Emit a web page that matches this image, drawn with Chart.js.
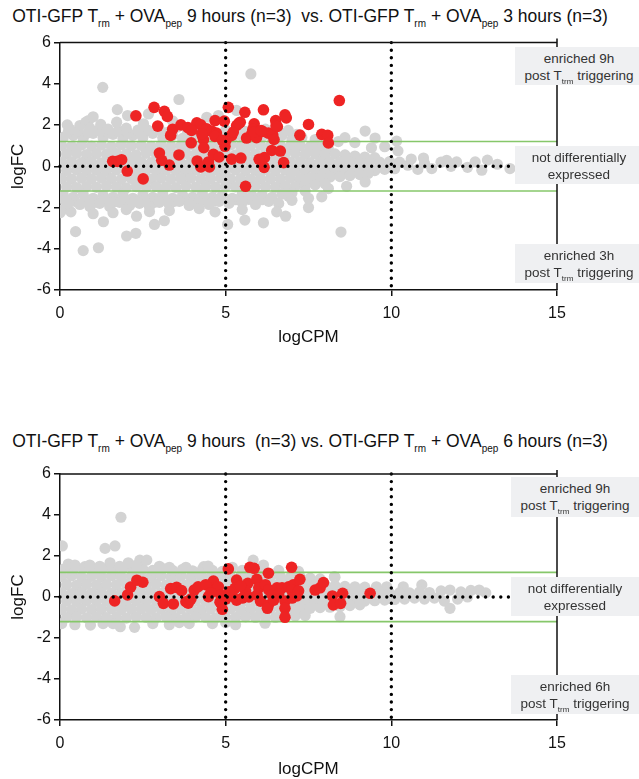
<!DOCTYPE html>
<html>
<head>
<meta charset="utf-8">
<script src="https://cdn.jsdelivr.net/npm/chart.js@4"></script>
<style>
  html, body { margin: 0; padding: 0; background: #fff; }
  body { width: 639px; height: 779px; position: relative; overflow: hidden;
         font-family: "Liberation Sans", Arial, sans-serif; color: #111; }
  .title { position: absolute; left: 0; width: 620px; text-align: center;
           font-size: 17.5px; line-height: 22px; white-space: nowrap; }
  .sub { font-size: 10px; position: relative; top: 5px; }
  .note { position: absolute; width: 128px; background: #eff0f2; text-align: center;
          font-size: 13.5px; line-height: 17px; color: #333; padding-top: 3px; box-sizing: border-box; }
  .note .sub { font-size: 8px; top: 4px; }
  .plot { position: absolute; left: 0; width: 639px; height: 330px; }
</style>
</head>
<body>
<div class="title" style="top:5px">OTI-GFP T<span class="sub">rm</span> + OVA<span class="sub">pep</span> 9 hours (n=3)&nbsp; vs. OTI-GFP T<span class="sub">rm</span> + OVA<span class="sub">pep</span> 3 hours (n=3)</div>
<div class="plot" style="top:30px"><canvas id="plot1"></canvas></div>
<div class="note" style="left:515px;top:47px;height:38px">enriched 9h<br>post T<span class="sub">trm</span> triggering</div>
<div class="note" style="left:515px;top:146px;height:38px">not differentially<br>expressed</div>
<div class="note" style="left:515px;top:244px;height:39px">enriched 3h<br>post T<span class="sub">trm</span> triggering</div>

<div class="title" style="top:430px">OTI-GFP T<span class="sub">rm</span> + OVA<span class="sub">pep</span> 9 hours&nbsp; (n=3) vs. OTI-GFP T<span class="sub">rm</span> + OVA<span class="sub">pep</span> 6 hours (n=3)</div>
<div class="plot" style="top:450px"><canvas id="plot2"></canvas></div>
<div class="note" style="left:511px;top:477px;height:40px">enriched 9h<br>post T<span class="sub">trm</span> triggering</div>
<div class="note" style="left:511px;top:577px;height:39px">not differentially<br>expressed</div>
<div class="note" style="left:511px;top:675px;height:39px">enriched 6h<br>post T<span class="sub">trm</span> triggering</div>

<script>
// axis ticks
const xTicks = [0, 5, 10, 15];
const yTicks = [-6, -4, -2, 0, 2, 4, 6];
// reference lines
const cpmCuts = [5, 10];
const fcCuts = [1.2, -1.2];
const zeroLineEnd = 13.7;

// 9h vs 3h: bulk of genes (logCPM, logFC)
const gray1Band = [
  [0.05,1.0],[0.35,0.97],[0.65,1.03],[0.95,0.98],[1.25,1.02],[1.55,0.96],[1.85,1.04],[2.15,0.99],[2.45,1.01],[2.75,0.97],[3.05,1.03],[3.35,0.98],[3.65,1.0],[3.95,1.04],[4.25,0.96],[4.55,1.02],[4.85,0.99],[5.15,1.03],[5.45,0.97],[5.75,1.0],[6.05,1.02],[6.35,0.98],[6.65,1.01],[6.95,0.97],[7.25,1.0],[7.55,0.95],[7.85,0.9],[8.1,0.85],
  [0.2,0.6],[0.5,0.63],[0.8,0.57],[1.1,0.61],[1.4,0.58],[1.7,0.62],[2.0,0.6],[2.3,0.56],[2.6,0.63],[2.9,0.59],[3.2,0.61],[3.5,0.57],[3.8,0.62],[4.1,0.6],[4.4,0.58],[4.7,0.63],[5.0,0.6],[5.3,0.56],[5.6,0.62],[5.9,0.59],[6.2,0.61],[6.5,0.57],[6.8,0.6],[7.1,0.63],[7.4,0.58],[7.7,0.61],[8.0,0.57],[8.3,0.6],[8.6,0.55],[8.9,0.5],[9.2,0.45],[9.5,0.42],
  [0.05,0.2],[0.35,0.22],[0.65,0.18],[0.95,0.21],[1.25,0.17],[1.55,0.2],[1.85,0.23],[2.15,0.19],[2.45,0.21],[2.75,0.18],[3.05,0.2],[3.35,0.22],[3.65,0.17],[3.95,0.2],[4.25,0.23],[4.55,0.19],[4.85,0.21],[5.15,0.18],[5.45,0.2],[5.75,0.22],[6.05,0.18],[6.35,0.21],[6.65,0.19],[6.95,0.2],[7.25,0.22],[7.55,0.18],[7.85,0.21],[8.15,0.19],[8.45,0.2],[8.75,0.22],[9.05,0.18],[9.35,0.21],[9.65,0.2],[9.95,0.23],[10.25,0.2],
  [0.2,-0.2],[0.5,-0.17],[0.8,-0.22],[1.1,-0.19],[1.4,-0.21],[1.7,-0.18],[2.0,-0.2],[2.3,-0.23],[2.6,-0.18],[2.9,-0.21],[3.2,-0.19],[3.5,-0.2],[3.8,-0.22],[4.1,-0.18],[4.4,-0.21],[4.7,-0.19],[5.0,-0.2],[5.3,-0.17],[5.6,-0.22],[5.9,-0.2],[6.2,-0.18],[6.5,-0.21],[6.8,-0.19],[7.1,-0.2],[7.4,-0.22],[7.7,-0.18],[8.0,-0.2],[8.3,-0.21],[8.6,-0.19],[8.9,-0.2],[9.2,-0.18],[9.5,-0.21],[9.8,-0.15],[10.1,-0.12],
  [0.05,-0.6],[0.35,-0.62],[0.65,-0.58],[0.95,-0.61],[1.25,-0.57],[1.55,-0.6],[1.85,-0.63],[2.15,-0.59],[2.45,-0.6],[2.75,-0.62],[3.05,-0.58],[3.35,-0.61],[3.65,-0.6],[3.95,-0.57],[4.25,-0.62],[4.55,-0.6],[4.85,-0.58],[5.15,-0.61],[5.45,-0.6],[5.75,-0.63],[6.05,-0.59],[6.35,-0.6],[6.65,-0.62],[6.95,-0.58],[7.25,-0.6],[7.55,-0.57],[7.85,-0.55],[8.15,-0.52],[8.45,-0.5],[8.75,-0.45],[9.05,-0.4],[9.3,-0.35],
  [0.2,-1.0],[0.5,-1.03],[0.8,-0.98],[1.1,-1.02],[1.4,-0.97],[1.7,-1.01],[2.0,-1.04],[2.3,-0.99],[2.6,-1.02],[2.9,-0.98],[3.2,-1.0],[3.5,-1.03],[3.8,-0.97],[4.1,-1.01],[4.4,-0.99],[4.7,-1.02],[5.0,-0.98],[5.3,-1.0],[5.6,-1.03],[5.9,-0.97],[6.2,-1.0],[6.5,-1.02],[6.8,-0.96],[7.1,-0.98],[7.4,-0.93],[7.7,-0.9],[8.0,-0.85],
  [10.5,0.05],[10.6,0.35],[10.8,-0.15],[10.97,0.4],[11.0,0.15],[11.22,-0.11],[11.5,0.2],[11.67,0.29],[11.8,0.0],[11.97,0.21],[12.3,-0.05],[12.53,0.21],[12.73,-0.19],[12.9,0.3],[13.2,0.1],[13.58,-0.11]
];
const gray1Edge = [
  [0.1,1.4],[0.4,1.5],[0.7,1.35],[1.0,1.6],[1.3,1.4],[1.6,1.55],[1.9,1.35],[2.2,1.5],[2.5,1.4],[2.8,1.6],[3.1,1.4],[3.4,1.5],[3.7,1.35],[4.0,1.45],[4.3,1.6],[4.6,1.4],[4.9,1.5],[5.2,1.35],[5.5,1.45],[5.8,1.3],[6.1,1.45],[6.4,1.35],[6.7,1.5],[7.0,1.3],[7.3,1.4],[7.7,1.3],[8.0,1.25],[8.4,1.2],[8.6,1.39],
  [0.25,1.68],[0.55,1.72],[0.85,1.62],[1.15,1.75],[1.45,1.62],[1.75,1.72],[2.05,1.62],[2.4,1.6],[2.65,1.75],[3.25,1.65],[3.85,1.65],[4.45,1.62],[5.35,1.6],[5.9,1.55],[6.35,1.6],[7.15,1.55],
  [0.22,2.01],[0.6,1.98],[0.78,2.14],[0.86,2.22],[1.23,2.03],[1.71,2.14],[2.52,2.06],[0.3,1.8],[0.9,1.85],[1.45,1.8],[2.0,1.85],[2.35,1.75],[3.0,1.8],[3.55,1.9],[4.0,1.8],[4.43,2.38],[4.78,2.46],[5.33,2.71],[6.89,1.74],[5.0,1.75],[5.6,1.7],[6.2,1.8],[6.6,1.7],
  [9.21,1.71],[9.51,1.37],[10.16,1.22],[8.9,1.15],[9.8,0.95],[10.2,0.75],[9.4,0.9],
  [1.29,3.83],[5.76,4.48],[3.59,3.24],[1.73,2.75],[2.04,2.46],[3.4,2.2],[1.0,2.4],[2.67,2.54],
  [0.1,-1.4],[0.4,-1.5],[0.7,-1.35],[1.0,-1.55],[1.3,-1.4],[1.6,-1.5],[1.9,-1.35],[2.2,-1.55],[2.5,-1.4],[2.8,-1.5],[3.1,-1.35],[3.4,-1.55],[3.7,-1.4],[4.0,-1.5],[4.3,-1.35],[4.6,-1.5],[4.9,-1.4],[5.2,-1.55],[5.5,-1.35],[5.8,-1.45],[6.1,-1.4],[6.4,-1.5],[6.7,-1.35],[7.0,-1.3],[7.4,-1.2],
  [0.15,-1.65],[0.45,-1.7],[0.75,-1.6],[1.05,-1.75],[1.35,-1.62],[1.65,-1.72],[1.95,-1.6],[2.25,-1.72],[2.55,-1.62],[2.85,-1.75],[3.15,-1.6],[3.45,-1.7],[3.75,-1.6],[4.05,-1.7],[4.35,-1.6],[4.65,-1.68],[5.3,-1.62],[5.7,-1.6],[6.1,-1.62],[6.9,-1.45],
  [0.05,-2.13],[0.33,-2.21],[0.25,-1.8],[0.6,-1.85],[0.9,-1.95],[1.2,-1.8],[1.5,-1.95],[1.8,-1.75],[2.1,-1.9],[2.4,-1.8],[2.7,-1.95],[3.0,-1.75],[3.3,-1.85],[3.6,-1.7],[3.9,-1.9],[4.2,-1.75],[4.5,-1.85],[4.8,-1.7],[5.1,-1.8],[5.5,-1.75],[5.9,-1.85],[6.3,-1.7],[6.6,-1.8],[7.0,-1.65],[7.5,-1.55],[7.9,-1.48],[8.1,-1.08],[8.65,-0.97],[9.21,-0.76],
  [1.0,-2.3],[1.6,-2.25],[2.31,-2.42],[2.0,-2.1],[2.7,-2.2],[3.3,-2.15],[4.68,-2.21],[4.2,-2.05],[5.5,-2.1],[6.54,-2.21],[7.5,-2.0],
  [0.47,-3.17],[0.7,-4.09],[1.16,-3.95],[1.31,-2.69],[2.01,-3.38],[2.29,-3.25],[2.85,-2.82],[3.15,-2.64],[5.06,-2.82],[5.58,-2.61],[6.14,-2.74],[6.81,-2.42],[8.48,-3.19],[0.0,-2.25]
];
// 9h vs 3h: significant genes
const red1 = [
  [2.29,2.45],[2.84,2.86],[3.15,2.67],[3.24,2.42],[2.95,1.95],[3.4,1.8],[3.34,1.5],[3.65,2.01],[3.86,1.88],[4.13,2.11],[4.25,2.01],[4.43,1.82],[4.58,1.71],[4.72,1.61],[4.3,1.47],[4.33,1.3],[4.68,2.22],[4.96,2.19],[5.08,2.86],[3.96,1.14],[4.34,0.9],[3.59,0.55],[3.0,0.64],[3.07,0.29],[3.3,0.06],[1.59,0.24],[1.73,0.24],[1.86,0.32],[2.03,-0.23],[2.51,-0.61],[4.14,0.26],[4.25,-0.03],[4.51,-0.03],[4.48,0.21],[4.63,0.58],[4.8,0.45],[4.98,0.97],[5.01,1.26],[5.18,1.5],[5.18,0.35],[5.46,0.4],[5.33,1.98],[5.44,2.14],[5.58,2.62],[5.6,-0.97],[5.63,1.37],[5.79,1.58],[5.86,2.06],[5.82,1.79],[5.93,1.39],[6.11,1.69],[6.14,2.74],[6.29,1.61],[6.42,1.53],[6.46,1.3],[6.51,2.22],[6.52,1.97],[6.79,2.5],[6.83,2.35],[6.39,0.77],[6.65,0.74],[6.75,0.18],[6.17,0.42],[6.01,0.34],[6.16,-0.05],[7.24,1.51],[7.5,2.03],[7.9,1.55],[8.08,1.5],[8.1,1.13],[8.43,3.19],[5.86,1.66],[3.97,1.74],[4.28,1.58],[4.68,1.45],[4.9,1.26],[5.23,1.66],[5.4,2.09],[6.07,1.74],[6.56,1.93]
];

// 9h vs 6h: bulk of genes
const gray2Band = [
  [0.05,1.0],[0.35,1.03],[0.65,0.97],[0.95,1.01],[1.25,0.98],[1.55,1.03],[1.85,0.99],[2.15,1.02],[2.45,0.97],[2.75,1.0],[3.05,1.04],[3.35,0.98],[3.65,1.01],[3.95,0.97],[4.25,1.02],[4.55,0.99],[4.85,1.03],[5.15,0.98],[5.45,1.0],[5.75,0.96],[6.05,1.02],[6.35,0.98],[6.65,1.0],[6.95,0.95],[7.25,0.97],[7.55,0.92],[7.85,0.88],[8.3,0.96],
  [0.2,0.6],[0.5,0.57],[0.8,0.62],[1.1,0.58],[1.4,0.61],[1.7,0.59],[2.0,0.63],[2.3,0.57],[2.6,0.6],[2.9,0.62],[3.2,0.58],[3.5,0.61],[3.8,0.57],[4.1,0.6],[4.4,0.63],[4.7,0.58],[5.0,0.61],[5.3,0.59],[5.6,0.6],[5.9,0.57],[6.2,0.62],[6.5,0.58],[6.8,0.6],[7.1,0.57],[7.4,0.61],[7.7,0.58],[8.0,0.6],[8.3,0.55],[8.6,0.52],[8.9,0.5],[9.2,0.48],[9.55,0.5],[9.86,0.5],[10.36,0.5],[10.92,0.59],
  [0.05,0.2],[0.35,0.17],[0.65,0.22],[0.95,0.19],[1.25,0.21],[1.55,0.18],[1.85,0.2],[2.15,0.23],[2.45,0.18],[2.75,0.21],[3.05,0.19],[3.35,0.2],[3.65,0.22],[3.95,0.17],[4.25,0.2],[4.55,0.21],[4.85,0.18],[5.15,0.2],[5.45,0.22],[5.75,0.19],[6.05,0.2],[6.35,0.18],[6.65,0.21],[6.95,0.2],[7.25,0.22],[7.55,0.19],[7.85,0.2],[8.15,0.18],[8.45,0.21],[8.75,0.2],[9.05,0.22],[9.35,0.19],[9.65,0.2],[9.95,0.18],[10.25,0.21],[10.55,0.2],[10.85,0.25],[11.15,0.22],[11.5,0.3],[11.77,0.34],[12.1,0.25],[12.4,0.32],[12.65,0.34],[12.85,0.2],
  [0.2,-0.2],[0.5,-0.22],[0.8,-0.18],[1.1,-0.21],[1.4,-0.19],[1.7,-0.2],[2.0,-0.23],[2.3,-0.18],[2.6,-0.21],[2.9,-0.2],[3.2,-0.17],[3.5,-0.22],[3.8,-0.19],[4.1,-0.2],[4.4,-0.21],[4.7,-0.18],[5.0,-0.2],[5.3,-0.22],[5.6,-0.19],[5.9,-0.2],[6.2,-0.21],[6.5,-0.18],[6.8,-0.2],[7.1,-0.22],[7.4,-0.19],[7.7,-0.2],[8.0,-0.18],[8.3,-0.21],[8.6,-0.2],[8.9,-0.17],[9.2,-0.2],[9.5,-0.18],[9.8,-0.15],[10.1,-0.12],[10.4,-0.1],[10.7,-0.05],[11.0,-0.1],[11.3,-0.05],[11.6,-0.2],[11.77,-0.55],[12.0,-0.1],[12.3,0.0],
  [0.05,-0.6],[0.35,-0.63],[0.65,-0.58],[0.95,-0.61],[1.25,-0.6],[1.55,-0.57],[1.85,-0.62],[2.15,-0.6],[2.45,-0.58],[2.75,-0.61],[3.05,-0.6],[3.35,-0.63],[3.65,-0.58],[3.95,-0.6],[4.25,-0.62],[4.55,-0.59],[4.85,-0.6],[5.15,-0.57],[5.45,-0.61],[5.75,-0.6],[6.05,-0.62],[6.35,-0.58],[6.65,-0.6],[6.95,-0.61],[7.25,-0.57],[7.55,-0.55],[7.85,-0.52],[8.15,-0.5],[8.45,-0.48],[8.75,-0.42],[9.05,-0.38],
  [0.2,-1.0],[0.5,-0.97],[0.8,-1.02],[1.1,-0.98],[1.4,-1.01],[1.7,-0.99],[2.0,-1.03],[2.3,-0.97],[2.6,-1.0],[2.9,-1.02],[3.2,-0.98],[3.5,-1.0],[3.8,-1.01],[4.1,-0.97],[4.4,-1.0],[4.7,-1.02],[5.0,-0.98],[5.3,-1.0],[5.6,-0.97],[5.9,-1.0],[6.2,-0.98],[6.5,-1.0],[6.8,-0.96],[7.1,-0.93],[7.4,-0.9],[8.45,-0.96]
];
const gray2Edge = [
  [0.1,1.35],[0.4,1.3],[0.7,1.4],[1.0,1.3],[1.3,1.38],[1.6,1.32],[1.9,1.4],[2.2,1.3],[2.5,1.35],[2.8,1.3],[3.1,1.38],[3.4,1.3],[3.7,1.35],[4.0,1.28],[4.3,1.35],[4.6,1.3],[4.9,1.25],[5.5,1.3],[6.0,1.28],[6.6,1.3],[7.2,1.25],
  [0.25,1.61],[0.45,1.56],[0.75,1.48],[0.9,1.56],[1.51,1.67],[2.06,1.67],[2.41,1.8],[2.62,1.8],[1.2,1.5],[1.8,1.5],[2.3,1.55],[3.0,1.5],[3.3,1.45],[4.34,1.48],[4.47,1.51],[5.83,1.8],[6.14,1.56],[3.8,1.45],[5.2,1.45],
  [0.07,2.49],[1.36,2.37],[1.66,2.49],[1.84,3.89],[8.28,0.99],
  [0.05,-1.3],[0.45,-1.35],[0.92,-1.37],[1.3,-1.3],[1.6,-1.3],[1.82,-1.45],[2.25,-1.48],[2.8,-1.3],[3.3,-1.35],[3.6,-1.25],[3.9,-1.3],[4.6,-1.3],[5.0,-1.25],[5.3,-1.35],[6.19,-1.28],[6.8,-0.96]
];
// 9h vs 6h: significant genes
const red2 = [
  [1.65,-0.19],[2.04,0.1],[2.13,0.48],[2.32,0.82],[2.5,0.72],[3.0,0.02],[3.12,-0.31],[3.34,0.41],[3.52,0.47],[3.42,-0.34],[3.67,0.31],[3.8,-0.23],[3.87,-0.3],[4.05,0.34],[4.17,0.5],[4.48,0.02],[4.63,0.78],[4.68,0.34],[4.78,0.5],[4.85,0.1],[4.83,-0.25],[4.9,-0.6],[5.0,-0.1],[5.08,1.37],[5.33,0.83],[5.28,0.42],[5.2,0.05],[5.33,-0.15],[5.1,0.25],[5.73,1.45],[5.86,1.4],[5.67,0.67],[5.6,0.3],[5.5,-0.05],[5.7,0.0],[5.94,0.86],[6.0,0.45],[5.95,0.1],[6.05,-0.2],[6.29,1.16],[6.2,0.6],[6.3,0.35],[6.4,0.1],[6.29,-0.39],[6.26,-0.55],[6.55,0.45],[6.7,0.45],[6.6,0.15],[6.79,-0.2],[6.79,-0.55],[6.99,1.45],[6.9,0.5],[7.04,0.59],[7.24,0.86],[6.99,0.34],[7.2,0.3],[7.15,0.05],[7.0,-0.05],[6.79,-0.99],[7.7,0.34],[7.85,0.45],[7.95,0.7],[8.22,0.05],[8.53,0.18],[8.25,-0.39],[8.47,-0.31],[9.36,0.18],[4.4,0.6],[4.55,0.2],[3.95,-0.1],[5.45,0.55],[6.45,-0.15]
];

const FONT = "'Liberation Sans', Arial, sans-serif";
const toPts = arr => arr.map(p => ({ x: p[0], y: p[1] }));

// top and right edges of the plot box
const frame = {
  id: "frame",
  afterDraw(chart) {
    const { ctx, chartArea: a } = chart;
    ctx.save();
    ctx.strokeStyle = "#111";
    ctx.lineWidth = 1.5;
    ctx.beginPath();
    ctx.moveTo(a.left, a.top);
    ctx.lineTo(a.right, a.top);
    ctx.moveTo(a.right, a.top - 4);
    ctx.lineTo(a.right, a.bottom);
    ctx.stroke();
    ctx.restore();
  }
};

function makePlot(id, gray, red, padTop, padBottom, xTitleBottom) {
  const yMin = yTicks[0], yMax = yTicks[yTicks.length - 1];
  const dotted = { showLine: true, pointRadius: 0, borderColor: "#000", borderWidth: 3.4,
                   borderDash: [0, 7.6], borderCapStyle: "round", order: 0, clip: 6 };
  const datasets = [
    { ...dotted, data: [{ x: xTicks[0], y: 0 }, { x: zeroLineEnd, y: 0 }] },
    ...cpmCuts.map(c => ({ ...dotted, data: [{ x: c, y: yMax }, { x: c, y: yMin }] })),
    { data: toPts(red), pointRadius: 5.8, backgroundColor: "#ee2424", borderWidth: 0, order: 1, clip: 0 },
    ...fcCuts.map(v => ({ showLine: true, pointRadius: 0, borderColor: "#86c76a", borderWidth: 1.6, order: 2,
                          data: [{ x: xTicks[0], y: v }, { x: xTicks[xTicks.length - 1], y: v }] })),
    { data: toPts(gray), pointRadius: 5.6, backgroundColor: "#d3d3d3", borderWidth: 0, order: 3, clip: 0 }
  ];
  const tickFont = { family: FONT, size: 16 };
  const titleFont = { family: FONT, size: 17 };
  new Chart(document.getElementById(id), {
    type: "scatter",
    data: { datasets },
    options: {
      responsive: true,
      maintainAspectRatio: false,
      animation: false,
      events: [],
      layout: { padding: { top: padTop, bottom: padBottom, left: 0, right: 82 } },
      plugins: { legend: { display: false }, tooltip: { enabled: false } },
      scales: {
        x: {
          type: "linear", min: xTicks[0], max: xTicks[xTicks.length - 1],
          afterBuildTicks: s => { s.ticks = xTicks.map(v => ({ value: v })); },
          afterFit: s => { s.height = 60; },
          ticks: { color: "#111", font: tickFont, padding: 8 },
          grid: { drawOnChartArea: false, tickLength: 6, color: "#111", lineWidth: 1.5 },
          border: { color: "#111", width: 1.5 },
          title: { display: true, text: "logCPM", color: "#111", font: titleFont, padding: { top: 4, bottom: xTitleBottom } }
        },
        y: {
          type: "linear", min: yMin, max: yMax,
          afterBuildTicks: s => { s.ticks = yTicks.map(v => ({ value: v })); },
          afterFit: s => { s.width = 60; },
          ticks: { color: "#111", font: tickFont, padding: 3 },
          grid: { drawOnChartArea: false, tickLength: 6, color: "#111", lineWidth: 1.5 },
          border: { color: "#111", width: 1.5 },
          title: { display: true, text: "logFC", color: "#111", font: titleFont, padding: { top: 8, bottom: 0 } }
        }
      }
    },
    plugins: [frame]
  });
}

makePlot("plot1", gray1Band.concat(gray1Edge), red1, 12, 10, 2);
makePlot("plot2", gray2Band.concat(gray2Edge), red2, 24, 0, 0);
</script>
</body>
</html>
